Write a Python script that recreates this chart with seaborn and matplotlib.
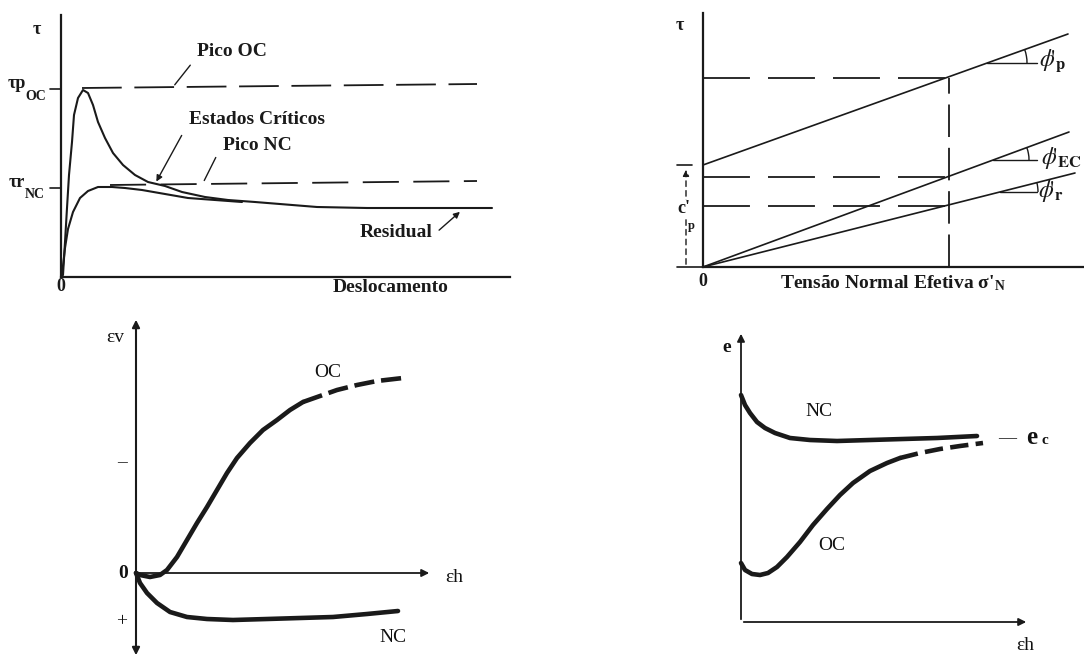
import math
import matplotlib
matplotlib.use('Agg')
import matplotlib.pyplot as plt
from matplotlib.patches import Arc
import seaborn as sns

# %%
# values (arbitrary units, origin at each axis corner)

# top left: tau x deslocamento
desl_oc = [0, 2, 4, 6, 8, 11, 13, 17, 22, 27, 32, 37, 44, 52, 62, 74, 87, 104,
           121, 144, 167, 194, 256, 306, 372, 431]
tau_oc = [0, 2, 35, 69, 102, 135, 162, 179, 187, 184, 172, 155, 139, 124, 112,
          102, 95, 91, 85, 80, 77, 75, 70, 69, 69, 69]
desl_nc = [0, 1, 4, 7, 12, 19, 27, 37, 51, 64, 81, 104, 127, 154, 181]
tau_nc = [0, 2, 29, 48, 65, 79, 86, 90, 90, 89, 87, 83, 79, 77, 75]
pico_oc_x = [21, 416]
pico_oc_y = [189, 193]
pico_nc_x = [49, 416]
pico_nc_y = [92, 96]
tau_p_oc = 188
tau_r_nc = 89

# top right: envelopes tau x sigma'n
sig_p = [0, 365]
tau_p = [102, 233]
sig_ec = [0, 366]
tau_ec = [0, 135]
sig_r = [0, 372]
tau_r = [0, 94]
sig_ref = 246
tau_ref = [189, 90, 61]
c_p = 102

# bottom left: ev x eh
eh_oc = [0, 4, 14, 24, 31, 41, 51, 61, 71, 81, 91, 101, 114, 127, 141, 154, 167]
ev_oc = [0, -2, -4, -2, 3, 16, 33, 50, 66, 83, 100, 115, 130, 143, 153, 163, 171]
eh_oc_d = [167, 184, 201, 221, 241, 267]
ev_oc_d = [171, 177, 183, 188, 192, 195]
eh_nc = [0, 4, 11, 21, 34, 51, 71, 97, 131, 164, 197, 231, 262]
ev_nc = [0, -10, -20, -30, -39, -44, -46, -47, -46, -45, -44, -41, -38]

# bottom right: e x eh
eh4_nc = [0, 4, 9, 16, 24, 34, 49, 69, 96, 129, 162, 196, 236]
e_nc = [227, 217, 209, 200, 194, 189, 184, 182, 181, 182, 183, 184, 186]
eh4_oc = [0, 4, 11, 19, 27, 36, 46, 59, 72, 86, 99, 112, 129, 146, 159]
e_oc = [59, 52, 48, 47, 49, 55, 65, 80, 97, 113, 127, 139, 151, 159, 164]
eh4_oc_d = [159, 179, 199, 219, 242]
e_oc_d = [164, 169, 173, 176, 179]
e_c = 183

# %%
sns.set_theme(style='white')
plt.rcParams['font.family'] = ['Liberation Serif', 'DejaVu Serif']
plt.rcParams['mathtext.fontset'] = 'stix'

W, H = 1084, 659
fig = plt.figure(figsize=(W / 100, H / 100), dpi=100)


def panel(box, origin):
    l, t, r, b = box
    ox, oy = origin
    ax = fig.add_axes([l / W, 1 - b / H, (r - l) / W, (b - t) / H])
    ax.set_xlim(l - ox, r - ox)
    ax.set_ylim(oy - b, oy - t)
    ax.set_xticks([])
    ax.set_yticks([])
    ax.patch.set_alpha(0)
    return ax


def axis_lines(ax, xmax, ymax, lw=1.5):
    for s in ['top', 'right']:
        ax.spines[s].set_visible(False)
    ax.spines['left'].set_position(('data', 0))
    ax.spines['bottom'].set_position(('data', 0))
    ax.spines['left'].set_bounds(0, ymax)
    ax.spines['bottom'].set_bounds(0, xmax)
    for s in ['left', 'bottom']:
        ax.spines[s].set_color('k')
        ax.spines[s].set_linewidth(lw)


def line(ax, x, y, lw=1.5, ls='-'):
    sns.lineplot(x=x, y=y, ax=ax, color='k', lw=lw, linestyle=ls,
                 sort=False, estimator=None, solid_joinstyle='round')


bold = dict(fontweight='bold', ha='center', va='center', color='k')
leader = dict(arrowstyle='-', color='k', lw=1.0)
head = dict(arrowstyle='-|>', color='k', lw=1.0, mutation_scale=9)

# %%
# top left
ax1 = panel((0, 0, 542, 300), (61, 277))
axis_lines(ax1, 449, 262, lw=1.6)
line(ax1, desl_oc, tau_oc, lw=1.5)
line(ax1, desl_nc, tau_nc, lw=1.5)
line(ax1, pico_oc_x, pico_oc_y, lw=1.3, ls=(0, (22, 7)))
line(ax1, pico_nc_x, pico_nc_y, lw=1.3, ls=(0, (20, 8)))
ax1.plot([-11, 0], [tau_p_oc, tau_p_oc], color='k', lw=1.2)
ax1.plot([-11, 0], [tau_r_nc, tau_r_nc], color='k', lw=1.2)
ax1.text(-24, 247, 'τ', fontsize=13, **bold)
ax1.text(-44, 194, 'τp', fontsize=13, **bold)
ax1.text(-25, 180, 'OC', fontsize=10, **bold)
ax1.text(-44, 94, 'τr', fontsize=13, **bold)
ax1.text(-26, 82, 'NC', fontsize=10, **bold)
ax1.text(171, 225, 'Pico OC', fontsize=14, **bold)
ax1.annotate('', xy=(112, 190), xytext=(131, 214), arrowprops=leader)
ax1.text(196, 157, 'Estados Críticos', fontsize=14, **bold)
ax1.annotate('', xy=(94, 93), xytext=(122, 144), arrowprops=head)
ax1.text(196, 132, 'Pico NC', fontsize=14, **bold)
ax1.annotate('', xy=(142, 94), xytext=(156, 122), arrowprops=leader)
ax1.text(335, 44, 'Residual', fontsize=14, **bold)
ax1.annotate('', xy=(401, 67), xytext=(376, 45), arrowprops=head)
ax1.text(0, -10, '0', fontsize=13, **bold)
ax1.text(330, -11, 'Deslocamento', fontsize=14, **bold)

# %%
# top right
ax2 = panel((660, 0, 1084, 300), (703, 267))
axis_lines(ax2, 380, 254, lw=1.6)
line(ax2, sig_p, tau_p, lw=1.2)
line(ax2, sig_ec, tau_ec, lw=1.2)
line(ax2, sig_r, tau_r, lw=1.2)
for t in tau_ref:
    line(ax2, [0, sig_ref], [t, t], lw=1.3, ls=(0, (26, 10)))
line(ax2, [sig_ref, sig_ref], [0, tau_ref[0]], lw=1.3, ls=(0, (18, 6)))
ax2.plot([-26, -11], [c_p, c_p], color='k', lw=1.2)
ax2.plot([-26, 0], [0, 0], color='k', lw=1.2)
ax2.annotate('', xy=(-17, c_p - 2), xytext=(-17, 0),
             arrowprops=dict(arrowstyle='-|>', color='k', lw=1.0,
                             linestyle=(0, (4, 3)), mutation_scale=9))
ax2.text(-19, 58, "c'", fontsize=13,
         bbox=dict(fc='white', ec='none', pad=0.5), **bold)
ax2.text(-12, 41, 'p', fontsize=9,
         bbox=dict(fc='white', ec='none', pad=0.2), **bold)
ax2.text(-23, 242, 'τ', fontsize=13, **bold)
ax2.text(0, -15, '0', fontsize=13, **bold)
ax2.text(190, -16, "Tensão Normal Efetiva σ'$_{\\mathregular{N}}$", fontsize=14, **bold)
# friction angle marks
for x0, x1, y0, slope, r in [(284, 334, 204, 0.359, 40),
                             (290, 334, 107, 0.369, 36),
                             (297, 334, 75, 0.253, 38)]:
    ax2.plot([x0, x1], [y0, y0], color='k', lw=1.0)
    ang = math.degrees(math.atan(slope))
    ax2.add_patch(Arc((x0, y0), 2 * r, 2 * r, theta1=0, theta2=ang,
                      color='k', lw=1.0))
ax2.text(350, 206, r"$\phi\!'_{\mathbf{p}}$", fontsize=17, **bold)
ax2.text(358, 109, r"$\phi\!'_{\mathbf{EC}}$", fontsize=17, **bold)
ax2.text(348, 76, r"$\phi\!'_{\mathbf{r}}$", fontsize=17, **bold)

# %%
# bottom left
ax3 = panel((0, 300, 542, 659), (136, 573))
ax3.set_axis_off()
ax3.annotate('', xy=(0, 256), xytext=(0, -85),
             arrowprops=dict(arrowstyle='<|-|>', color='k', lw=1.5, mutation_scale=11))
ax3.annotate('', xy=(296, 0), xytext=(0, 0),
             arrowprops=dict(arrowstyle='-|>', color='k', lw=1.3, mutation_scale=11))
line(ax3, eh_oc, ev_oc, lw=3.3)
line(ax3, eh_oc_d, ev_oc_d, lw=3.3, ls=(0, (4.4, 1.5)))
line(ax3, eh_nc, ev_nc, lw=3.3)
lbl = dict(ha='center', va='center', color='#111111')
ax3.text(-21, 236, 'εv', fontsize=14, **lbl)
ax3.text(-14, 110, '–', fontsize=14, **lbl)
ax3.text(-13, 0, '0', fontsize=14, fontweight='bold', **lbl)
ax3.text(-14, -49, '+', fontsize=14, **lbl)
ax3.text(318, -4, 'εh', fontsize=14, **lbl)
ax3.text(192, 201, 'OC', fontsize=14, **lbl)
ax3.text(257, -64, 'NC', fontsize=14, **lbl)

# %%
# bottom right
ax4 = panel((660, 300, 1084, 659), (741, 622))
ax4.set_axis_off()
ax4.annotate('', xy=(0, 291), xytext=(0, 0),
             arrowprops=dict(arrowstyle='-|>', color='k', lw=1.3, mutation_scale=11))
ax4.annotate('', xy=(288, 0), xytext=(0, 0),
             arrowprops=dict(arrowstyle='-|>', color='k', lw=1.3, mutation_scale=11))
line(ax4, eh4_nc, e_nc, lw=3.3)
line(ax4, eh4_oc, e_oc, lw=3.3)
line(ax4, eh4_oc_d, e_oc_d, lw=3.3, ls=(0, (4, 1.6)))
ax4.text(-14, 275, 'e', fontsize=14, fontweight='bold', **lbl)
ax4.text(284, -23, 'εh', fontsize=14, **lbl)
ax4.text(78, 210, 'NC', fontsize=14, **lbl)
ax4.text(91, 77, 'OC', fontsize=14, **lbl)
ax4.text(266, e_c, '—', fontsize=13, **lbl)
ax4.text(291, e_c + 1, 'e', fontsize=18, fontweight='bold', **lbl)
ax4.text(304, e_c - 2, 'c', fontsize=11, fontweight='bold', **lbl)

fig.savefig('out.png', dpi=100)
